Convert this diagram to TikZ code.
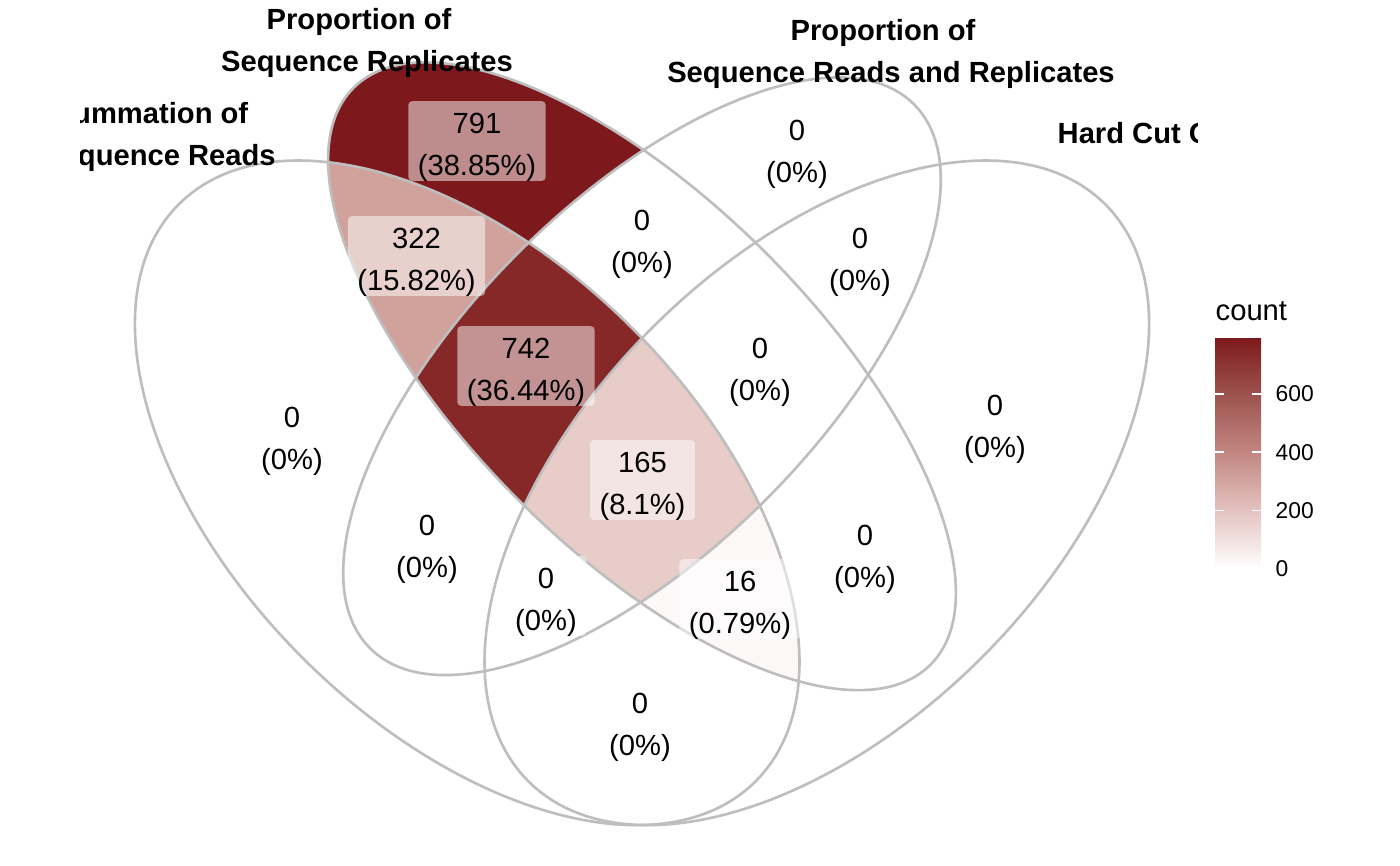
\documentclass[tikz,border=0pt]{standalone}
\usepackage{fontspec}
\setmainfont{Liberation Sans}
\usepackage{tikz}
\definecolor{c791}{RGB}{125,25,28}
\definecolor{c742}{RGB}{135,40,40}
\definecolor{c600}{RGB}{157,82,78}
\definecolor{c400}{RGB}{194,134,129}
\definecolor{c322}{RGB}{209,161,155}
\definecolor{c200}{RGB}{228,195,192}
\definecolor{c165}{RGB}{232,204,200}
\definecolor{c16}{RGB}{251,248,247}
\definecolor{edgegrey}{RGB}{190,190,190}
\pgfdeclareverticalshading{countbar}{100bp}{color(0bp)=(white); color(25bp)=(white);
  color(37.64bp)=(c200); color(50.28bp)=(c400); color(62.93bp)=(c600);
  color(75bp)=(c791); color(100bp)=(c791)}
\newcommand{\cntfont}{\fontsize{8.3}{11.95}\selectfont}
\newcommand{\tickfont}{\fontsize{6.5}{8}\selectfont}
% count and percentage, two lines
\newcommand{\cnt}[2]{\rule{0pt}{7.7pt}#1\\\raisebox{0pt}[\height][0pt]{(#2\%)}}
\newcommand{\ellA}{(0.35,0.47) ellipse [x radius=0.35, y radius=0.20]}
\newcommand{\ellB}{(0.50,0.57) ellipse [x radius=0.35, y radius=0.15]}
\newcommand{\ellC}{(0.50,0.57) ellipse [x radius=0.33, y radius=0.15]}
\newcommand{\ellD}{(0.65,0.47) ellipse [x radius=0.35, y radius=0.20]}
\tikzstyle{setA}=[rotate around={135:(0.35,0.47)}]
\tikzstyle{setB}=[rotate around={135:(0.50,0.57)}]
\tikzstyle{setC}=[rotate around={45:(0.50,0.57)}]
\tikzstyle{setD}=[rotate around={45:(0.65,0.47)}]
\tikzstyle{edge}=[draw=edgegrey, line width=0.75pt]
\tikzstyle{lbl}=[fill=white, fill opacity=0.5, text opacity=1, rounded corners=0.04cm,
  inner xsep=0.095cm, inner ysep=0.054cm, align=center, font=\cntfont]
\tikzstyle{setlbl}=[align=center, font=\cntfont\bfseries]
\tikzstyle{tick}=[white, line width=0.5pt]

\begin{document}
\begin{tikzpicture}
    \path[use as bounding box, fill=white] (0,0) rectangle (14,8.65);
    % regions and outlines
    \begin{scope}[shift={(0.5925,-1.756)}, x=11.655cm, y=11.655cm]
      \begin{scope}
        \clip[setB] \ellB;
        \fill[c791] (0,0) rectangle (1,1);
        \begin{scope}
          \clip[setC] \ellC;
          \fill[white] (0,0) rectangle (1,1);
        \end{scope}
        \begin{scope}
          \clip[setD] \ellD;
          \fill[white] (0,0) rectangle (1,1);
        \end{scope}
        \clip[setA] \ellA;
        \fill[c322] (0,0) rectangle (1,1);
        \begin{scope}
          \clip[setC] \ellC;
          \fill[c742] (0,0) rectangle (1,1);
        \end{scope}
        \clip[setD] \ellD;
        \fill[c16] (0,0) rectangle (1,1);
        \clip[setC] \ellC;
        \fill[c165] (0,0) rectangle (1,1);
      \end{scope}
      \draw[edge, setA] \ellA;
      \draw[edge, setB] \ellB;
      \draw[edge, setC] \ellC;
      \draw[edge, setD] \ellD;
    \end{scope}
    % counts
    \node[lbl] (nB) at (4.77,7.24) {\cnt{791}{38.85}};
    \node[lbl] (nAB) at (4.165,6.09) {\cnt{322}{15.82}};
    \node[lbl] (nABC) at (5.26,4.99) {\cnt{742}{36.44}};
    \node[lbl] (nABCD) at (6.425,3.85) {\cnt{165}{8.1}};
    \node[lbl] (nABD) at (7.40,2.66) {\cnt{16}{0.79}};
    \foreach \x/\y/\nm in {7.97/7.17/nC, 6.42/6.27/nBC, 8.60/6.09/nCD, 7.60/4.99/nBCD,
      9.95/4.42/nD, 2.92/4.30/nA, 4.27/3.22/nAC, 5.46/2.69/nACD, 8.65/3.12/nBD, 6.40/1.44/nAD}
      \node[lbl] (\nm) at (\x,\y) {\cnt{0}{0}};
    % set names
    \begin{scope}
      \clip (0.80,0) rectangle (11.97,8.65);
      \node[setlbl] (tA) at (1.59,7.28) {Summation of\hspace*{0.55em}\\Sequence Reads};
      \node[setlbl] (tB) at (3.67,8.22) {Proportion of\hspace*{0.55em}\\Sequence Replicates};
      \node[setlbl] (tC) at (8.91,8.11) {Proportion of\hspace*{0.55em}\\Sequence Reads and Replicates};
      \node[setlbl, anchor=west, inner sep=0pt] (tD) at (10.57,7.32) {Hard Cut Off};
    \end{scope}
    % legend
    \node[anchor=west, inner sep=0pt, font=\cntfont] (ttl) at (12.15,5.54) {count};
    \shade[shading=countbar] (12.15,2.96) rectangle (12.61,5.27);
    \foreach \y/\v in {2.96/0, 3.544/200, 4.128/400, 4.712/600} {
      \draw[tick] (12.15,\y) -- (12.24,\y);
      \draw[tick] (12.52,\y) -- (12.61,\y);
      \node[anchor=west, inner sep=0pt, font=\tickfont] (k\v) at (12.75,\y) {\v};
    }
\end{tikzpicture}
\end{document}
